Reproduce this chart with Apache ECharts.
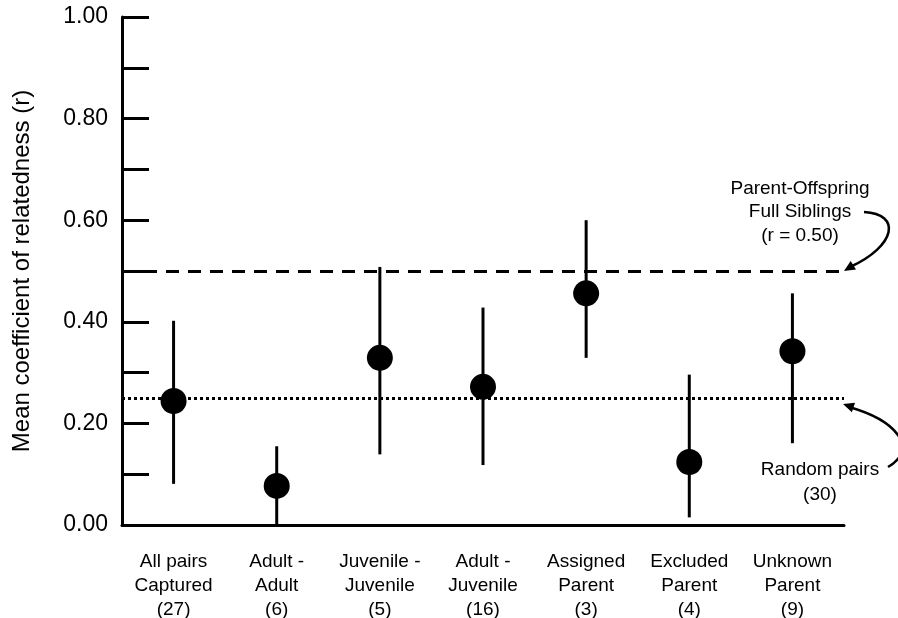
<!DOCTYPE html>
<html>
<head>
<meta charset="utf-8">
<script src="https://cdn.jsdelivr.net/npm/echarts@6/dist/echarts.min.js"></script>
<style>
  html, body { margin: 0; padding: 0; background: #fff; }
  #chart { width: 898px; height: 618px; }
</style>
</head>
<body>
<div id="chart"></div>
<script>
// groups and pair counts
const groups = ['All pairs\nCaptured\n(27)', 'Adult -\nAdult\n(6)', 'Juvenile -\nJuvenile\n(5)',
  'Adult -\nJuvenile\n(16)', 'Assigned\nParent\n(3)', 'Excluded\nParent\n(4)', 'Unknown\nParent\n(9)'];
// mean r and error bar ends
const meanR = [0.244, 0.077, 0.329, 0.272, 0.456, 0.124, 0.342];
const lowR  = [0.081, 0.000, 0.139, 0.118, 0.329, 0.015, 0.161];
const highR = [0.402, 0.155, 0.508, 0.428, 0.600, 0.296, 0.456];
// reference levels
const parentOffspringR = 0.50;
const randomPairsR = 0.25;

const font = 'Liberation Sans, Arial, sans-serif';
let chart = echarts.init(document.getElementById('chart'));

function arrowHead(tipX, tipY, fromX, fromY, len, half) {
	let dx = tipX - fromX, dy = tipY - fromY;
	let d = Math.sqrt(dx * dx + dy * dy);
	dx /= d; dy /= d;
	let bx = tipX - dx * len, by = tipY - dy * len;
	return [[tipX, tipY], [bx - dy * half, by + dx * half], [bx + dy * half, by - dx * half]];
}

let option = {
	animation: false,
	backgroundColor: '#fff',
	grid: { left: 122, right: 54, top: 17, bottom: 93, outerBoundsMode: 'none' },
	xAxis: {
		type: 'category',
		data: groups,
		axisLine: { lineStyle: { color: '#000', width: 3 } },
		axisTick: { show: false },
		axisLabel: { color: '#000', fontSize: 19, fontFamily: font, lineHeight: 24, margin: 25, interval: 0 }
	},
	yAxis: {
		type: 'value',
		min: 0,
		max: 1,
		interval: 0.1,
		name: 'Mean coefficient of relatedness (r)',
		nameLocation: 'middle',
		nameGap: 88,
		nameTextStyle: { color: '#000', fontSize: 24, fontFamily: font },
		axisLine: { show: true, lineStyle: { color: '#000', width: 3 } },
		axisTick: { show: true, inside: true, length: 27, lineStyle: { color: '#000', width: 3 } },
		splitLine: { show: false },
		axisLabel: {
			color: '#000', fontSize: 23, fontFamily: font, margin: 14,
			formatter: function(v) {
				return Math.round(v * 10) % 2 === 0 ? v.toFixed(2) : '';
			}
		}
	},
	series: [{
			type: 'custom',
			data: groups.map((g, i) => [i, lowR[i], highR[i]]),
			renderItem: function(params, api) {
				let lo = api.coord([api.value(0), api.value(1)]);
				let hi = api.coord([api.value(0), api.value(2)]);
				return {
					type: 'line',
					shape: { x1: lo[0], y1: lo[1], x2: hi[0], y2: hi[1] },
					style: { stroke: '#000', lineWidth: 3 }
				};
			},
			z: 3
		},
		{
			type: 'scatter',
			data: meanR,
			symbol: 'circle',
			symbolSize: 26,
			itemStyle: { color: '#000', opacity: 1 },
			z: 4,
			markLine: {
				silent: true,
				symbol: 'none',
				label: { show: false },
				data: [{
						yAxis: parentOffspringR,
						lineStyle: { color: '#000', width: 3, type: [13, 9] }
					},
					{
						yAxis: randomPairsR,
						lineStyle: { color: '#000', width: 3, type: [3, 3] }
					}
				]
			}
		}
	],
	graphic: [{
			type: 'text',
			style: {
				x: 800, y: 177,
				text: 'Parent-Offspring\nFull Siblings\n(r = 0.50)',
				fill: '#000', font: '19px ' + font, lineHeight: 23.5, align: 'center', verticalAlign: 'top'
			}
		},
		{
			type: 'text',
			style: {
				x: 820, y: 457,
				text: 'Random pairs\n(30)',
				fill: '#000', font: '19px ' + font, lineHeight: 25, align: 'center', verticalAlign: 'top'
			}
		},
		{
			type: 'bezierCurve',
			shape: { x1: 864, y1: 212, cpx1: 902, cpy1: 214, cpx2: 896, cpy2: 246, x2: 850, y2: 267 },
			style: { stroke: '#000', lineWidth: 2.5, fill: null }
		},
		{
			type: 'polygon',
			shape: { points: arrowHead(844, 271, 860, 261, 11, 5) },
			style: { fill: '#000' }
		},
		{
			type: 'bezierCurve',
			shape: { x1: 888, y1: 467, cpx1: 920, cpy1: 448, cpx2: 895, cpy2: 420, x2: 849, y2: 407 },
			style: { stroke: '#000', lineWidth: 2.5, fill: null }
		},
		{
			type: 'polygon',
			shape: { points: arrowHead(843, 404, 858, 409, 11, 5) },
			style: { fill: '#000' }
		}
	]
};
chart.setOption(option);
</script>
</body>
</html>
